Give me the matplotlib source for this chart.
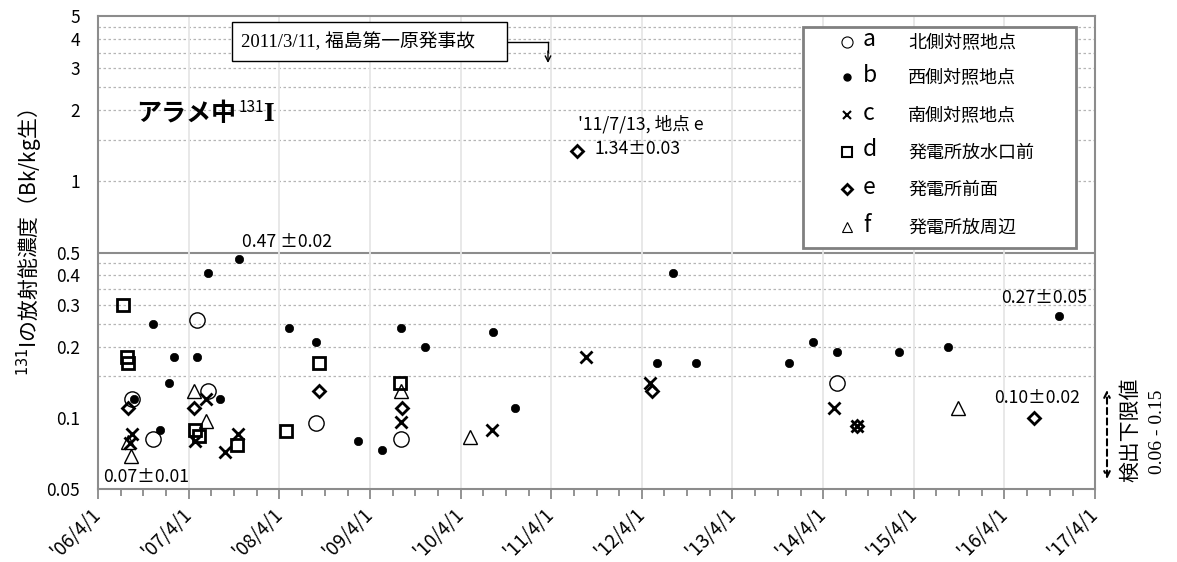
import datetime as dt
import matplotlib
matplotlib.use("Agg")
import matplotlib.pyplot as plt
import matplotlib.dates as mdates
from matplotlib.patches import Rectangle
from matplotlib.lines import Line2D
from matplotlib.ticker import FixedLocator, FuncFormatter, NullLocator

plt.rcParams['font.family'] = ['Noto Sans CJK JP', 'DejaVu Sans']
plt.rcParams['axes.unicode_minus'] = False

# ---- data (sampling date, Bq/kg) ----
a_dates = ["2006-08-15", "2006-11-10", "2007-05-03", "2007-06-19", "2008-08-28",
           "2009-08-03", "2014-05-28"]
a_vals = [0.12, 0.081, 0.26, 0.13, 0.095, 0.081, 0.14]

b_dates = ["2006-08-25", "2006-11-10", "2006-12-06", "2007-01-12", "2007-02-02",
           "2007-05-04", "2007-06-19", "2007-08-07", "2007-10-20", "2008-05-09",
           "2008-08-28", "2009-02-12", "2009-05-21", "2009-08-03", "2009-11-10",
           "2010-08-10", "2010-11-08", "2012-05-30", "2012-08-05", "2012-11-07",
           "2013-11-15", "2014-02-20", "2014-05-28", "2015-02-03", "2015-08-16",
           "2016-11-08"]
b_vals = [0.12, 0.25, 0.089, 0.14, 0.18, 0.18, 0.41, 0.12, 0.47, 0.24,
          0.21, 0.08, 0.073, 0.24, 0.20, 0.23, 0.11, 0.17, 0.41, 0.17,
          0.17, 0.21, 0.19, 0.19, 0.20, 0.27]

c_dates = ["2006-08-15", "2006-08-08", "2007-04-26", "2007-06-12", "2007-08-25",
           "2007-10-17", "2009-08-03", "2010-08-07", "2011-08-18", "2012-05-03",
           "2014-05-15", "2014-08-16"]
c_vals = [0.085, 0.078, 0.08, 0.12, 0.072, 0.085, 0.096, 0.089, 0.18, 0.14,
          0.11, 0.092]

d_dates = ["2006-07-12", "2006-07-28", "2006-07-30", "2007-04-26", "2007-05-13",
           "2007-10-12", "2008-04-26", "2008-09-08", "2009-08-02"]
d_vals = [0.30, 0.18, 0.17, 0.089, 0.084, 0.077, 0.088, 0.17, 0.14]

e_dates = ["2006-08-01", "2007-04-23", "2008-09-07", "2009-08-09", "2011-07-13",
           "2012-05-13", "2014-08-16", "2016-07-30"]
e_vals = [0.11, 0.11, 0.13, 0.11, 1.34, 0.13, 0.092, 0.10]

f_dates = ["2006-08-01", "2006-08-12", "2007-04-23", "2007-06-12", "2009-08-03",
           "2010-05-08", "2015-09-26"]
f_vals = [0.079, 0.069, 0.13, 0.097, 0.13, 0.083, 0.11]

letters = ["a", "b", "c", "d", "e", "f"]
site_names = ["北側対照地点", "西側対照地点", "南側対照地点", "発電所放水口前",
              "発電所前面", "発電所放周辺"]

y_ticks = [0.05, 0.1, 0.2, 0.3, 0.4, 0.5, 1, 2, 3, 4, 5]
y_ticklabels = ["0.05", "0.1", "0.2", "0.3", "0.4", "0.5", "1", "2", "3", "4", "5"]
dotted_levels = [0.15, 0.2, 0.25, 0.3, 0.35, 0.4, 0.45,
                 1, 1.5, 2, 2.5, 3, 3.5, 4, 4.5]


def to_dt(lst):
    return [dt.datetime.strptime(s, "%Y-%m-%d") for s in lst]


W, H = 1177, 562


def fx(px):
    return px / W


def fy(py):
    return 1 - py / H


fig = plt.figure(figsize=(W / 100, H / 100), dpi=100)
ax = fig.add_axes([fx(98), fy(489), fx(1095) - fx(98), fy(16) - fy(489)])

ax.set_yscale('log')
ax.set_ylim(0.05, 5)
ax.set_xlim(dt.datetime(2006, 4, 1), dt.datetime(2017, 4, 1))

ax.yaxis.set_major_locator(FixedLocator(y_ticks))
ax.yaxis.set_minor_locator(NullLocator())
ax.set_yticklabels(y_ticklabels, fontsize=12.5)
ax.tick_params(axis='y', length=0, pad=13)

ax.xaxis.set_major_locator(mdates.YearLocator(1, month=4, day=1))
ax.xaxis.set_minor_locator(mdates.MonthLocator(bymonth=[1, 4, 7, 10]))
ax.xaxis.set_major_formatter(FuncFormatter(
    lambda v, p: "'" + mdates.num2date(v).strftime("%y") + "/4/1"))
ax.tick_params(axis='x', which='major', length=7, width=1.2, color='#808080', pad=9)
ax.tick_params(axis='x', which='minor', length=5, width=1.2, color='#808080')
for lab in ax.get_xticklabels():
    lab.set_rotation(45)
    lab.set_ha('right')
    lab.set_va('center')
    lab.set_rotation_mode('anchor')
    lab.set_fontsize(13.5)

for s in ax.spines.values():
    s.set_color('#8c8c8c')
    s.set_linewidth(1.5)

ax.grid(True, which='major', axis='x', color='#e6e6e6', lw=1.3)
for lv in dotted_levels:
    ax.axhline(lv, color='#b5b5b5', lw=0.9, ls=(0, (2, 2)), zorder=0.5)
ax.axhline(0.5, color='#8c8c8c', lw=1.5, zorder=0.6)

styles = [
    dict(marker='o', ms=11, mfc='none', mec='black', mew=1.0),
    dict(marker='o', ms=6, mfc='black', mec='black', mew=0.5),
    dict(marker='x', ms=9, mec='black', mew=2.0),
    dict(marker='s', ms=8.5, mfc='none', mec='black', mew=2.0),
    dict(marker='D', ms=6.3, mfc='none', mec='black', mew=2.0),
    dict(marker='^', ms=10, mfc='none', mec='black', mew=1.0),
]
series = [(a_dates, a_vals), (b_dates, b_vals), (c_dates, c_vals),
          (d_dates, d_vals), (e_dates, e_vals), (f_dates, f_vals)]
for (ds, vs), st in zip(series, styles):
    ax.plot(to_dt(ds), vs, ls='none', zorder=3, **st)

# value notes
fs_note = 12.7
fig.text(fx(287), fy(242), "0.47 ±0.02", fontsize=fs_note, ha='center', va='center')
fig.text(fx(146), fy(477), "0.07±0.01", fontsize=fs_note, ha='center', va='center')
fig.text(fx(1044), fy(298), "0.27±0.05", fontsize=fs_note, ha='center', va='center')
fig.text(fx(1037), fy(398), "0.10±0.02", fontsize=fs_note, ha='center', va='center')
fig.text(fx(578), fy(124), "'11/7/13, 地点 e", fontsize=fs_note, ha='left', va='center')
fig.text(fx(595), fy(149), "1.34±0.03", fontsize=fs_note, ha='left', va='center')

# title
fig.text(fx(136), fy(121), "アラメ中", fontsize=18, fontweight='bold',
         ha='left', va='baseline')
fig.text(fx(239), fy(99), "131", fontsize=11, ha='left', va='top')
fig.text(fx(263), fy(121), "I", fontsize=20, fontweight='bold',
         family='Liberation Serif', ha='left', va='baseline')

# y label
fig.text(fx(30), fy(243), "$^{131}$Iの放射能濃度（Bk/kg生）", fontsize=15,
         rotation=90, ha='center', va='center')

# accident box
fig.add_artist(Rectangle((fx(232), fy(61)), fx(507) - fx(232), fy(22) - fy(61),
                         transform=fig.transFigure, fc='white', ec='black', lw=1.0,
                         zorder=4))
fig.text(fx(241), fy(42), "2011/3/11, 福島第一原発事故", fontsize=13.5,
         family=['Liberation Serif', 'Noto Sans CJK JP'], ha='left', va='center',
         zorder=5)
fig.add_artist(Line2D([fx(507), fx(548)], [fy(42), fy(42)], color='black', lw=1.0,
                      transform=fig.transFigure))
fig.add_artist(Line2D([fx(548), fx(548)], [fy(42), fy(52)], color='black', lw=1.0,
                      transform=fig.transFigure))
ax.annotate("", xy=(fx(548), fy(63)), xycoords='figure fraction',
            xytext=(fx(548), fy(51)), textcoords='figure fraction',
            arrowprops=dict(arrowstyle='->', lw=1.0, color='black',
                            shrinkA=0, shrinkB=0))

# legend (drawn by hand)
fig.add_artist(Rectangle((fx(803), fy(248)), fx(1076) - fx(803), fy(27) - fy(248),
                         transform=fig.transFigure, fc='white', ec='#808080', lw=2.0,
                         zorder=4))
row_y = [42, 77, 115, 152, 189, 227]
leg_styles = [
    dict(marker='o', ms=8, mfc='none', mec='black', mew=0.8),
    dict(marker='o', ms=5, mfc='black', mec='black'),
    dict(marker='x', ms=6, mec='black', mew=1.5),
    dict(marker='s', ms=7, mfc='none', mec='black', mew=1.5),
    dict(marker='D', ms=5, mfc='none', mec='black', mew=2.0),
    dict(marker='^', ms=7, mfc='none', mec='black', mew=0.8),
]
for yy, let, name, st in zip(row_y, letters, site_names, leg_styles):
    fig.add_artist(Line2D([fx(847)], [fy(yy)], ls='none', transform=fig.transFigure,
                          zorder=5, **st))
    fig.text(fx(863), fy(yy - 2), let, fontsize=16.5, ha='left', va='center', zorder=5)
    fig.text(fx(908), fy(yy + 1), name, fontsize=13, ha='left', va='center', zorder=5)

# detection limit note
ax.annotate("", xy=(fx(1107), fy(390)), xycoords='figure fraction',
            xytext=(fx(1107), fy(479)), textcoords='figure fraction',
            arrowprops=dict(arrowstyle='<->', lw=1.5, ls=(0, (3, 2)), color='black',
                            shrinkA=0, shrinkB=0))
fig.text(fx(1130), fy(430), "検出下限値", fontsize=15, rotation=90,
         ha='center', va='center')
fig.text(fx(1158), fy(432), "0.06 - 0.15", fontsize=14, rotation=90,
         family='Liberation Serif', ha='center', va='center')

fig.savefig("out.png", dpi=100)
plt.close('all')
